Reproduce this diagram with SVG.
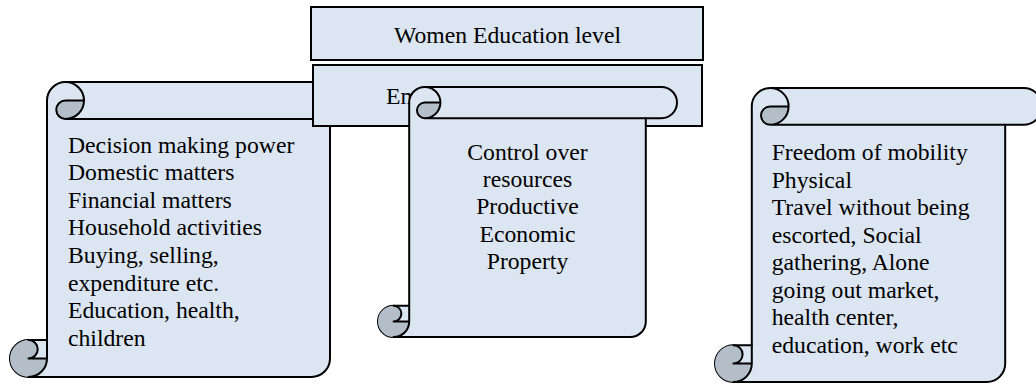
<svg xmlns="http://www.w3.org/2000/svg" width="1036" height="386" viewBox="0 0 1036 386">
  <style>
    .body { fill: #dce6f2; stroke: #000; stroke-width: 2; stroke-linejoin: round; }
    .curl { fill: #b4bec9; stroke: none; }
    .line { fill: none; stroke: #000; stroke-width: 2; stroke-linejoin: round; stroke-linecap: round; }
    .box { fill: #dce6f2; stroke: #000; stroke-width: 2; }
    .label { font-family: 'Liberation Serif', serif; font-size: 23.7px; fill: #000; }
    .mid { text-anchor: middle; }
  </style>

  <!-- Scroll 1: decision making power -->
  <g id="scroll-decision">
    <path class="body" d="M47,340 L47,100.5 A18.5,18.5 0 0 1 65.5,82 L348.5,82 A18.5,18.5 0 0 1 367,100.5 A18.5,18.5 0 0 1 348.5,119 L330,119 L330,358.5 A18.5,18.5 0 0 1 311.5,377 L28.5,377 A18.5,18.5 0 0 1 10,358.5 A18.5,18.5 0 0 1 28.5,340 Z"/>
    <path class="curl" d="M84,100.5 A18.5,18.5 0 0 1 65.5,119 A9.25,9.25 0 0 1 65.5,100.5 Z"/>
    <path class="curl" d="M28.5,340 A9.25,9.25 0 0 1 28.5,358.5 L47,358.5 A18.5,18.5 0 0 1 28.5,377 A18.5,18.5 0 0 1 10,358.5 A18.5,18.5 0 0 1 28.5,340 Z"/>
    <path class="line" d="M65.5,82 A18.5,18.5 0 0 1 84,100.5 A18.5,18.5 0 0 1 65.5,119 A9.25,9.25 0 0 1 65.5,100.5 L84,100.5 M330,119 L65.5,119 M28.5,340 A9.25,9.25 0 0 1 28.5,358.5 L47,358.5 M28.5,377 A18.5,18.5 0 0 0 47,358.5 L47,340"/>
    <g class="label" font-family="Liberation Serif, serif">
      <text x="68" y="152.7">Decision making power</text>
      <text x="68" y="180.3">Domestic matters</text>
      <text x="68" y="207.8">Financial matters</text>
      <text x="68" y="235.4">Household activities</text>
      <text x="68" y="263">Buying, selling,</text>
      <text x="68" y="290.5">expenditure etc.</text>
      <text x="68" y="318.1">Education, health,</text>
      <text x="68" y="345.7">children</text>
    </g>
  </g>

  <!-- Title boxes -->
  <g id="box-education">
    <rect class="box" x="311" y="7" width="392" height="53"/>
    <text class="label mid" font-family="Liberation Serif, serif" x="507.5" y="42.7">Women Education level</text>
  </g>
  <g id="box-empowerment">
    <rect class="box" x="313" y="65" width="389" height="61"/>
    <text class="label" font-family="Liberation Serif, serif" x="386" y="103.5">Em</text>
  </g>

  <!-- Scroll 2: control over resources -->
  <g id="scroll-resources">
    <path class="body" d="M409.2,305.8 L409.2,102.6 A15.6,15.6 0 0 1 424.8,87 L661.4,87 A15.6,15.6 0 0 1 677,102.6 A15.6,15.6 0 0 1 661.4,118.2 L645.8,118.2 L645.8,321.4 A15.6,15.6 0 0 1 630.2,337 L393.6,337 A15.6,15.6 0 0 1 378,321.4 A15.6,15.6 0 0 1 393.6,305.8 Z"/>
    <path class="curl" d="M440.4,102.6 A15.6,15.6 0 0 1 424.8,118.2 A7.8,7.8 0 0 1 424.8,102.6 Z"/>
    <path class="curl" d="M393.6,305.8 A7.8,7.8 0 0 1 393.6,321.4 L409.2,321.4 A15.6,15.6 0 0 1 393.6,337 A15.6,15.6 0 0 1 378,321.4 A15.6,15.6 0 0 1 393.6,305.8 Z"/>
    <path class="line" d="M424.8,87 A15.6,15.6 0 0 1 440.4,102.6 A15.6,15.6 0 0 1 424.8,118.2 A7.8,7.8 0 0 1 424.8,102.6 L440.4,102.6 M645.8,118.2 L424.8,118.2 M393.6,305.8 A7.8,7.8 0 0 1 393.6,321.4 L409.2,321.4 M393.6,337 A15.6,15.6 0 0 0 409.2,321.4 L409.2,305.8"/>
    <g class="label mid" font-family="Liberation Serif, serif">
      <text x="527.5" y="160">Control over</text>
      <text x="527.5" y="187.2">resources</text>
      <text x="527.5" y="214.4">Productive</text>
      <text x="527.5" y="241.6">Economic</text>
      <text x="527.5" y="268.8">Property</text>
    </g>
  </g>

  <!-- Scroll 3: freedom of mobility -->
  <g id="scroll-mobility">
    <path class="body" d="M751.8,345.2 L751.8,106.4 A18.4,18.4 0 0 1 770.2,88 L1023.6,88 A18.4,18.4 0 0 1 1042,106.4 A18.4,18.4 0 0 1 1023.6,124.8 L1005.2,124.8 L1005.2,363.6 A18.4,18.4 0 0 1 986.8,382 L733.4,382 A18.4,18.4 0 0 1 715,363.6 A18.4,18.4 0 0 1 733.4,345.2 Z"/>
    <path class="curl" d="M788.6,106.4 A18.4,18.4 0 0 1 770.2,124.8 A9.2,9.2 0 0 1 770.2,106.4 Z"/>
    <path class="curl" d="M733.4,345.2 A9.2,9.2 0 0 1 733.4,363.6 L751.8,363.6 A18.4,18.4 0 0 1 733.4,382 A18.4,18.4 0 0 1 715,363.6 A18.4,18.4 0 0 1 733.4,345.2 Z"/>
    <path class="line" d="M770.2,88 A18.4,18.4 0 0 1 788.6,106.4 A18.4,18.4 0 0 1 770.2,124.8 A9.2,9.2 0 0 1 770.2,106.4 L788.6,106.4 M1005.2,124.8 L770.2,124.8 M733.4,345.2 A9.2,9.2 0 0 1 733.4,363.6 L751.8,363.6 M733.4,382 A18.4,18.4 0 0 0 751.8,363.6 L751.8,345.2"/>
    <g class="label" font-family="Liberation Serif, serif">
      <text x="771.7" y="160">Freedom of mobility</text>
      <text x="771.7" y="187.5">Physical</text>
      <text x="771.7" y="215">Travel without being</text>
      <text x="771.7" y="242.5">escorted, Social</text>
      <text x="771.7" y="270">gathering, Alone</text>
      <text x="771.7" y="297.5">going out market,</text>
      <text x="771.7" y="325">health center,</text>
      <text x="771.7" y="352.5">education, work etc</text>
    </g>
  </g>
</svg>
